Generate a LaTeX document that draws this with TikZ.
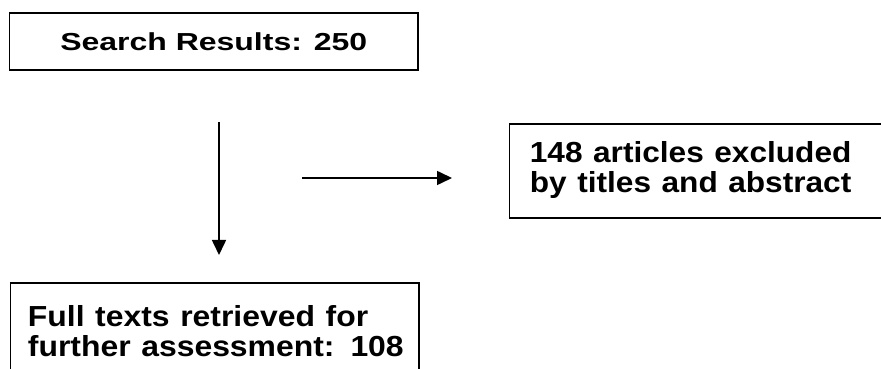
\documentclass[tikz,border=0pt]{standalone}
\usepackage{fontspec}
\setmainfont{Liberation Sans}
\usetikzlibrary{arrows.meta}

\begin{document}
\begin{tikzpicture}
[x=1pt,y=1pt,%
  boxDecorate/.style={shape=rectangle,draw,line width=1.8pt,inner sep=0pt},%
  arrowDecorate/.style={-{Triangle[length=15pt,width=14pt]},line width=1.6pt}]
\useasboundingbox (0,0) rectangle (881,369);
%% boxes
\node (search) at (213.75,327.3) [boxDecorate,minimum width=408.5pt,minimum height=56.7pt,
  font=\fontsize{24.6}{29}\selectfont\bfseries]
  {\scalebox{1.3}[1]{Search Results: 250}};
\node (excluded) at (508.5,245.7) [boxDecorate,anchor=north west,inner xsep=20.5pt,
  minimum height=93.7pt,text width=360pt,align=left,
  font=\fontsize{29}{29}\selectfont\bfseries]
  {\scalebox{1.09}[1]{\begin{tabular}{@{}l@{}}148 articles excluded\\by titles and abstract\end{tabular}}};
\node (fulltext) at (9.5,86.5) [boxDecorate,anchor=north west,inner xsep=17.5pt,
  inner ysep=22.5pt,text width=373.5pt,align=left,
  font=\fontsize{29}{27.5}\selectfont\bfseries]
  {\scalebox{1.1}[1]{\begin{tabular}{@{}l@{}}Full texts retrieved for\\further assessment: 108\end{tabular}}};
%% arrow ends
\foreach \pointname/\x/\y in {
  downStart/219/247, downEnd/219/114, rightStart/302/191, rightEnd/452/191}
{
  \coordinate (\pointname) at (\x,\y);
}
%% arrows
\path
\foreach \startpoint/\endpoint in {downStart/downEnd, rightStart/rightEnd}
{
  (\startpoint) edge[arrowDecorate] (\endpoint)
};
\end{tikzpicture}
\end{document}
